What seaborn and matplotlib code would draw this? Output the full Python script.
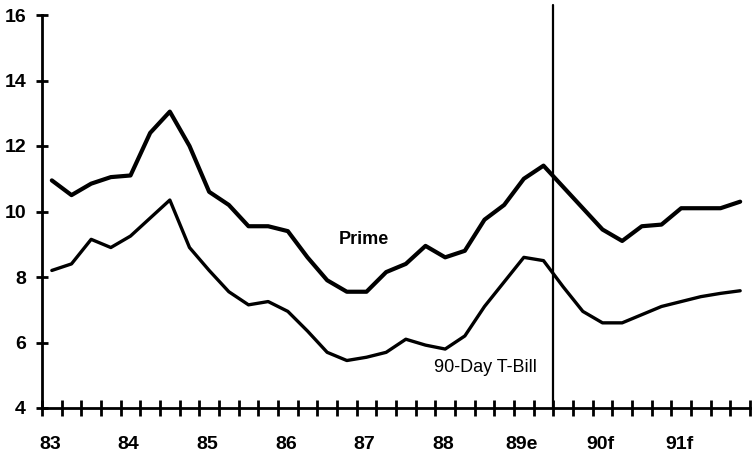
import matplotlib
matplotlib.use("Agg")
import matplotlib.pyplot as plt
import matplotlib.transforms as mtransforms
import seaborn as sns
import pandas as pd
import numpy as np

quarters = [83.125 + 0.25 * i for i in range(36)]
prime = [10.95, 10.5, 10.85, 11.05, 11.1, 12.4, 13.05, 12.0,
         10.6, 10.2, 9.55, 9.55, 9.4, 8.6, 7.9, 7.55,
         7.55, 8.15, 8.4, 8.95, 8.6, 8.8, 9.75, 10.2,
         11.0, 11.4, 10.75, 10.1, 9.45, 9.1, 9.55, 9.6,
         10.1, 10.1, 10.1, 10.3]
tbill = [8.2, 8.4, 9.15, 8.9, 9.25, 9.8, 10.35, 8.9,
         8.2, 7.55, 7.15, 7.25, 6.95, 6.35, 5.7, 5.45,
         5.55, 5.7, 6.1, 5.92, 5.8, 6.2, 7.1, 7.85,
         8.6, 8.5, 7.7, 6.95, 6.6, 6.6, 6.85, 7.1,
         7.25, 7.4, 7.5, 7.58]
year_ticks = [83, 84, 85, 86, 87, 88, 89, 90, 91]
year_labels = ["83", "84", "85", "86", "87", "88", "89e", "90f", "91f"]
y_ticks = [4, 6, 8, 10, 12, 14, 16]
forecast_start = 89.5

sns.set_style("ticks")
plt.rcParams['font.family'] = ['Liberation Sans', 'DejaVu Sans']
plt.rcParams['text.color'] = 'black'
plt.rcParams['xtick.color'] = 'black'
plt.rcParams['ytick.color'] = 'black'

fig = plt.figure(figsize=(7.53, 4.59), dpi=100)
W, H = 753, 459
ax = fig.add_axes([42 / W, 1 - 408 / H, (750 - 42) / W, (408 - 15) / H])

df = pd.DataFrame({"x": quarters, "Prime": prime, "T-Bill": tbill})
sns.lineplot(data=df, x="x", y="Prime", ax=ax, color="black", lw=3.0)
sns.lineplot(data=df, x="x", y="T-Bill", ax=ax, color="black", lw=2.4)

ax.set_xlim(83, 92)
ax.set_ylim(4, 16)
ax.axvline(forecast_start, ymin=0, ymax=1.025, color="black", lw=1.6, clip_on=False)

sns.despine(ax=ax)
for s in ["left", "bottom"]:
    ax.spines[s].set_linewidth(2.0)
    ax.spines[s].set_color("black")

ax.set_yticks(y_ticks)
ax.set_yticklabels([str(v) for v in y_ticks], fontsize=14, fontweight='bold')
ax.tick_params(axis='y', direction='inout', length=9, width=2, pad=7, colors='black')

ax.set_xticks(np.arange(83, 92.01, 0.25), minor=True)
ax.set_xticks(year_ticks)
ax.set_xticklabels(year_labels, fontsize=14, fontweight='bold')
ax.tick_params(axis='x', which='both', direction='inout', length=12, width=2,
               pad=14, colors='black')

offset = mtransforms.ScaledTranslation(8 / 100, 0, fig.dpi_scale_trans)
for lab in ax.get_xticklabels():
    lab.set_transform(lab.get_transform() + offset)

ax.set_xlabel("")
ax.set_ylabel("")

ax.text(87.09, 9.13, "Prime", fontsize=13, fontweight='bold', ha='center', va='center')
ax.text(88.64, 5.25, "90-Day T-Bill", fontsize=13, ha='center', va='center')

fig.savefig("out.png", dpi=100)
